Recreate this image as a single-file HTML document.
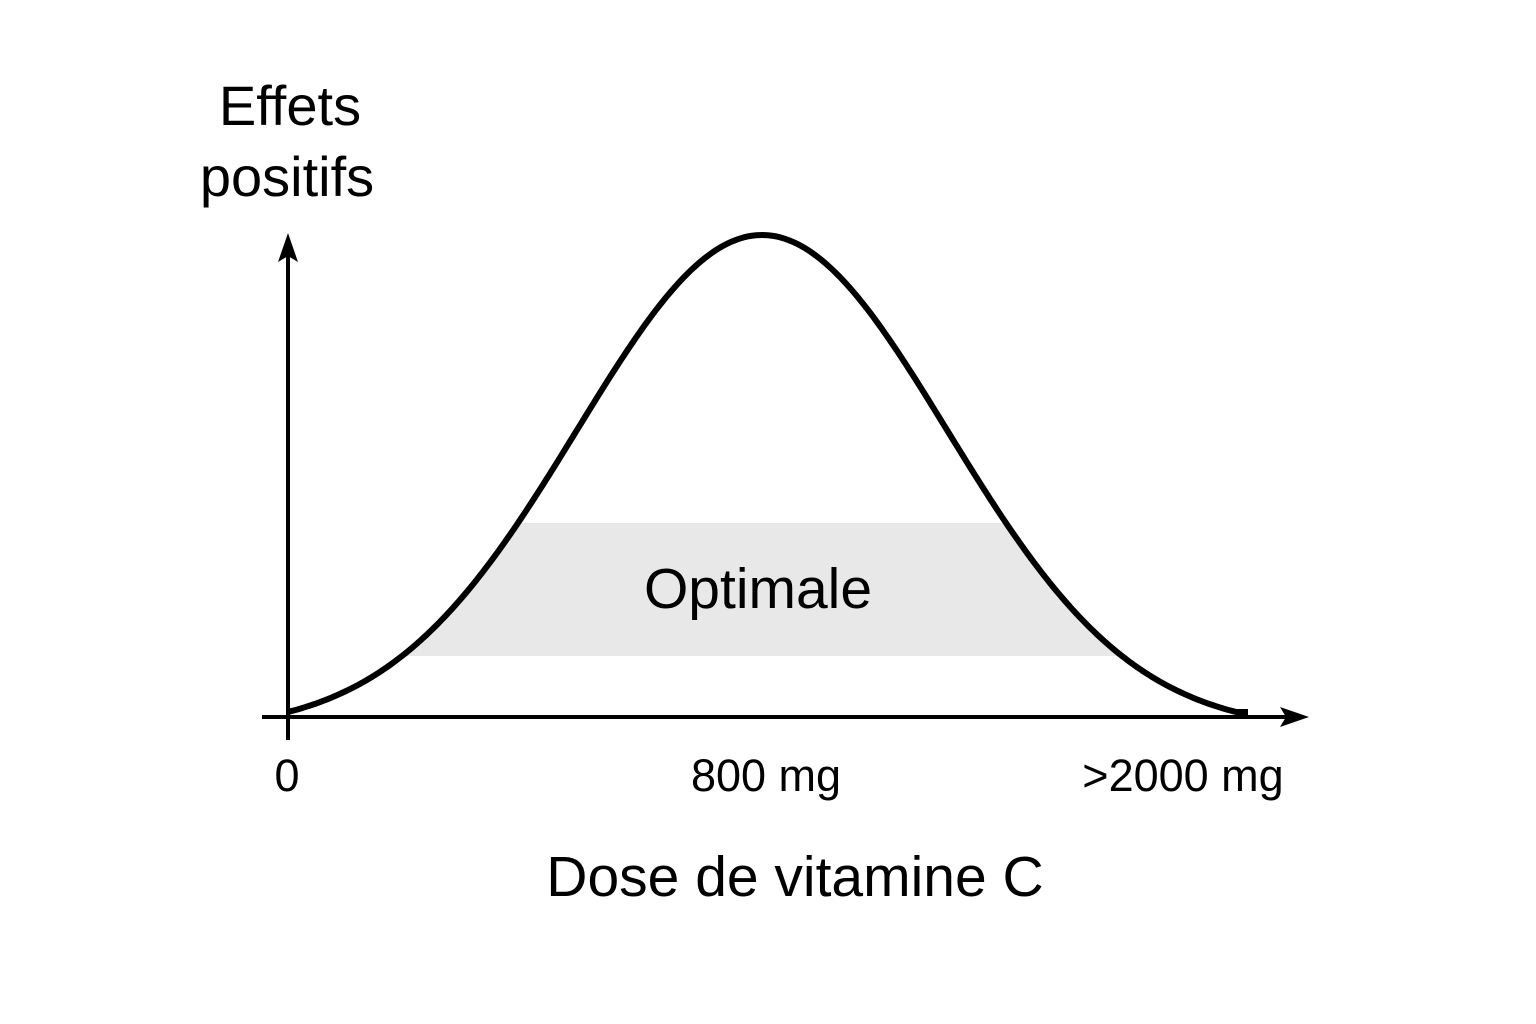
<!DOCTYPE html>
<html><head><meta charset="utf-8"><style>
html,body{margin:0;padding:0;background:#fff;}
svg{display:block;}
text{font-family:"Liberation Sans","DejaVu Sans",sans-serif;fill:#000;}
</style></head><body>
<svg id="s" width="1536" height="1024" viewBox="0 0 1536 1024" xmlns="http://www.w3.org/2000/svg">
<defs><clipPath id="c"><path id="cp" d=""/></clipPath></defs>
<rect x="300" y="523" width="900" height="133" fill="#e8e8e8" clip-path="url(#c)"/>
<line x1="288" y1="740" x2="288" y2="250" stroke="#000" stroke-width="4"/>
<polygon points="288,233 278,262 288,256 298,262" fill="#000"/>
<line x1="262" y1="717" x2="1295" y2="717" stroke="#000" stroke-width="4"/>
<polygon points="1309,717 1280,707 1286,717 1280,727" fill="#000"/>
<path id="cv" d="" fill="none" stroke="#000" stroke-width="6" stroke-linecap="butt"/>
<text x="290" y="125" font-size="56" text-anchor="middle">Effets</text>
<text x="287" y="196" font-size="56" text-anchor="middle">positifs</text>
<text x="758" y="608" font-size="57" text-anchor="middle">Optimale</text>
<text x="287" y="791" font-size="45" text-anchor="middle">0</text>
<text x="766" y="791" font-size="45" text-anchor="middle">800 mg</text>
<text x="1183" y="791" font-size="45" text-anchor="middle">&gt;2000 mg</text>
<text x="795" y="896" font-size="57" text-anchor="middle">Dose de vitamine C</text>
</svg>
<script>
var p=[],s=185,e0=Math.exp(-474*474/(2*s*s));
for(var x=288;x<=1248;x+=3){
 var dx=Math.min(Math.abs(x-762),474);
 var h=(Math.exp(-dx*dx/(2*s*s))-e0)/(1-e0);
 var y=712-477*h;
 p.push(x+","+y.toFixed(1));
}
var d="M"+p.join(" L");
document.getElementById("cv").setAttribute("d",d);
document.getElementById("cp").setAttribute("d",d+" Z");
</script>
</body></html>
